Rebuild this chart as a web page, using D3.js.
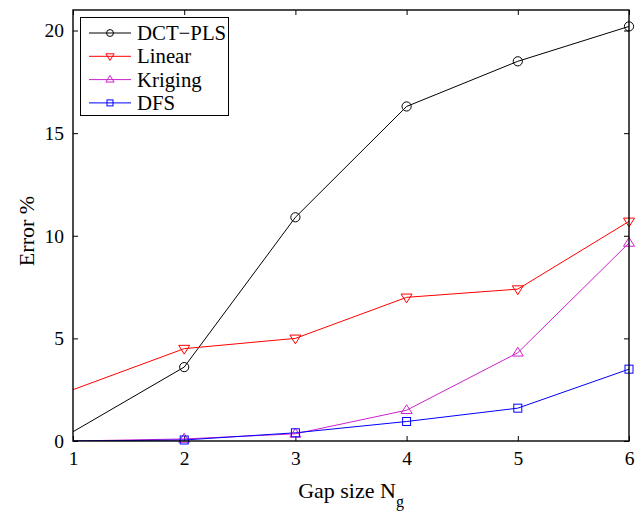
<!DOCTYPE html>
<html><head><meta charset="utf-8">
<script src="https://cdn.jsdelivr.net/npm/d3@7"></script>
<style>body{margin:0;background:#fff}svg{display:block}text{font-family:"Liberation Serif","Times New Roman",serif}</style>
</head><body>
<svg id="c" width="643" height="511"></svg>
<script>
const gapSizes = [1, 2, 3, 4, 5, 6];
const dctPls  = [0.45, 3.6, 10.9, 16.3, 18.5, 20.2];
const linear  = [2.5, 4.5, 5.0, 7.0, 7.4, 10.7];
const kriging = [0.0, 0.1, 0.35, 1.5, 4.3, 9.65];
const dfs     = [0.0, 0.05, 0.4, 0.95, 1.6, 3.5];
const seriesNames = ["DCT\u2212PLS", "Linear", "Kriging", "DFS"];
const xTicks = [1, 2, 3, 4, 5, 6];
const yTicks = [0, 5, 10, 15, 20];

const series = [
  {name: seriesNames[0], values: dctPls,  color: "#000000", marker: "circle"},
  {name: seriesNames[1], values: linear,  color: "#ff0000", marker: "down"},
  {name: seriesNames[2], values: kriging, color: "#cc22cc", marker: "up"},
  {name: seriesNames[3], values: dfs,     color: "#0000ff", marker: "square"}
];

const svg = d3.select("#c");
const L = 73, R = 629, T = 10, B = 441;
const x = d3.scaleLinear().domain([1, 6]).range([L, R]);
const y = d3.scaleLinear().domain([0, 21]).range([B, T]);

const defs = svg.append("defs");
defs.append("clipPath").attr("id", "clip").append("rect")
  .attr("x", L).attr("y", T).attr("width", R - L).attr("height", B - T);

function drawMarker(g, type, cx, cy, color, k) {
  k = k || 1;
  if (type === "circle") {
    g.append("circle").attr("cx", cx).attr("cy", cy).attr("r", 4.6 * k)
      .attr("fill", "none").attr("stroke", color).attr("stroke-width", 1);
  } else if (type === "square") {
    const h = 4 * k;
    g.append("rect").attr("x", cx - h).attr("y", cy - h).attr("width", 2 * h).attr("height", 2 * h)
      .attr("fill", "none").attr("stroke", color).attr("stroke-width", 1);
  } else if (type === "down") {
    const s = 5.5 * k;
    g.append("path").attr("d", `M${cx - s},${cy - s * 0.6}L${cx + s},${cy - s * 0.6}L${cx},${cy + s * 1.0}Z`)
      .attr("fill", "none").attr("stroke", color).attr("stroke-width", 1);
  } else if (type === "up") {
    const s = 5.5 * k;
    g.append("path").attr("d", `M${cx - s},${cy + s * 0.6}L${cx + s},${cy + s * 0.6}L${cx},${cy - s * 1.0}Z`)
      .attr("fill", "none").attr("stroke", color).attr("stroke-width", 1);
  }
}

// axes (ticks inward, mirrored)
const tickLen = 5;
const axG = svg.append("g");
const xAxisB = d3.axisBottom(x).tickValues(xTicks).tickSize(-tickLen).tickPadding(10).tickFormat(d3.format("d"));
const xAxisT = d3.axisTop(x).tickValues(xTicks).tickSize(-tickLen).tickFormat("");
const yAxisL = d3.axisLeft(y).tickValues(yTicks).tickSize(-tickLen).tickPadding(9).tickFormat(d3.format("d"));
const yAxisR = d3.axisRight(y).tickValues(yTicks).tickSize(-tickLen).tickFormat("");
[[xAxisB, `translate(0,${B})`], [xAxisT, `translate(0,${T})`], [yAxisL, `translate(${L},0)`], [yAxisR, `translate(${R},0)`]]
  .forEach(([a, t]) => {
    const g = axG.append("g").attr("transform", t).call(a);
    g.select(".domain").remove();
    g.selectAll(".tick line").attr("stroke", "#000").attr("stroke-width", 1);
    g.selectAll(".tick text").attr("font-size", 19.5).attr("fill", "#000")
      .attr("font-family", "'Liberation Serif','Times New Roman',serif");
  });

// lines
const plot = svg.append("g").attr("clip-path", "url(#clip)");
const line = d3.line().x((d, i) => x(gapSizes[i])).y(d => y(d));
series.forEach(s => {
  plot.append("path").attr("d", line(s.values)).attr("fill", "none")
    .attr("stroke", s.color).attr("stroke-width", 1);
});
const mk = svg.append("g");
series.forEach(s => {
  s.values.forEach((v, i) => {
    if (i === 0) return; // no marker drawn at the left edge
    drawMarker(mk, s.marker, x(gapSizes[i]), y(v), s.color);
  });
});

// frame
svg.append("rect").attr("x", L).attr("y", T).attr("width", R - L).attr("height", B - T)
  .attr("fill", "none").attr("stroke", "#000").attr("stroke-width", 1.4);

// legend
const lg = svg.append("g");
lg.append("rect").attr("x", 80.5).attr("y", 17.5).attr("width", 148).attr("height", 98)
  .attr("fill", "#fff").attr("stroke", "#000").attr("stroke-width", 1);
series.forEach((s, i) => {
  const ly = 33 + i * 23.3;
  lg.append("line").attr("x1", 89).attr("x2", 131).attr("y1", ly).attr("y2", ly)
    .attr("stroke", s.color).attr("stroke-width", 1);
  drawMarker(lg, s.marker, 110, ly, s.color, 0.75);
  lg.append("text").attr("x", 137).attr("y", ly + 7).attr("font-size", 20.8).attr("fill", "#000").text(s.name);
});

// axis titles
const xt = svg.append("text").attr("x", 351).attr("y", 498).attr("text-anchor", "middle")
  .attr("font-size", 22).attr("fill", "#000");
xt.append("tspan").text("Gap size N");
xt.append("tspan").attr("font-size", 16).attr("dy", 9).text("g");
svg.append("text").attr("transform", "translate(33.5,231) rotate(-90)").attr("text-anchor", "middle")
  .attr("font-size", 22).attr("fill", "#000").text("Error %");
</script>
</body></html>
